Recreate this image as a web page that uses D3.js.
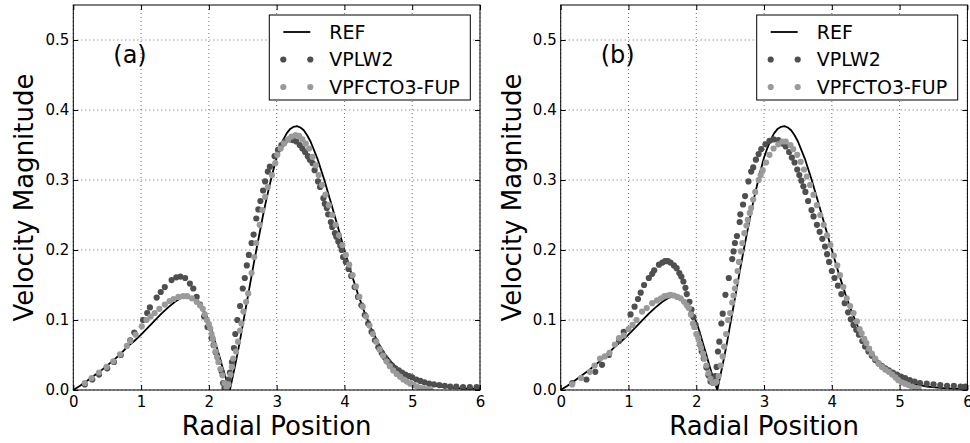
<!DOCTYPE html>
<html>
<head>
<meta charset="utf-8">
<script src="https://cdn.jsdelivr.net/npm/d3@7"></script>
<style>
  html, body { margin: 0; padding: 0; background: #fff; }
  svg { display: block; font-family: "DejaVu Sans", sans-serif; }
</style>
</head>
<body>
<svg id="chart" width="970" height="443"></svg>
<script>
// ---------------- DATA ----------------
const xTicks = [0, 1, 2, 3, 4, 5, 6];
const yTicks = [0.0, 0.1, 0.2, 0.3, 0.4, 0.5];
const panelLabels = ["(a)", "(b)"];
const seriesNames = ["REF", "VPLW2", "VPFCTO3-FUP"];
const xTitle = "Radial Position";
const yTitle = "Velocity Magnitude";

// Reference solution (same in both panels) [radial position, velocity]
const refCurve = [[0,0],[0.1,0.006],[0.2,0.013],[0.3,0.02],[0.4,0.027],[0.5,0.035],[0.6,0.043],[0.7,0.052],[0.8,0.062],[0.9,0.07],[1.0,0.079],[1.1,0.089],[1.2,0.099],[1.3,0.109],[1.4,0.118],[1.5,0.126],[1.6,0.132],[1.7,0.134],[1.8,0.129],[1.9,0.118],[1.95,0.109],[2.0,0.097],[2.05,0.083],[2.1,0.066],[2.15,0.05],[2.2,0.033],[2.25,0.017],[2.31,0.0],[2.35,0.018],[2.4,0.041],[2.45,0.066],[2.5,0.093],[2.55,0.12],[2.6,0.147],[2.65,0.174],[2.7,0.2],[2.75,0.225],[2.8,0.25],[2.85,0.273],[2.9,0.294],[2.95,0.314],[3.0,0.332],[3.05,0.346],[3.1,0.358],[3.15,0.367],[3.2,0.373],[3.25,0.376],[3.3,0.377],[3.35,0.375],[3.4,0.371],[3.45,0.364],[3.5,0.355],[3.6,0.331],[3.7,0.301],[3.8,0.268],[3.9,0.234],[4.0,0.2],[4.1,0.167],[4.2,0.137],[4.3,0.11],[4.4,0.087],[4.5,0.067],[4.6,0.051],[4.7,0.039],[4.8,0.029],[4.9,0.022],[5.0,0.016],[5.2,0.009],[5.4,0.005],[5.6,0.003],[5.8,0.002],[6.0,0.002]];

// Panel (a)
const aVPLW2 = [[0.17,0.008],[0.28,0.015],[0.38,0.022],[0.5,0.031],[0.6,0.04],[0.7,0.05],[0.84,0.071],[0.9,0.082],[1.03,0.1],[1.09,0.11],[1.13,0.118],[1.23,0.132],[1.29,0.14],[1.35,0.147],[1.45,0.157],[1.52,0.161],[1.58,0.162],[1.65,0.16],[1.72,0.152],[1.77,0.145],[1.82,0.133],[1.87,0.122],[1.93,0.105],[1.98,0.09],[2.04,0.074],[2.07,0.064],[2.1,0.054],[2.15,0.04],[2.19,0.026],[2.21,0.01],[2.23,0.003],[2.27,0.005],[2.29,0.015],[2.31,0.025],[2.34,0.04],[2.37,0.06],[2.39,0.08],[2.42,0.1],[2.46,0.12],[2.5,0.145],[2.53,0.16],[2.56,0.178],[2.59,0.193],[2.63,0.21],[2.66,0.222],[2.7,0.245],[2.73,0.258],[2.76,0.27],[2.8,0.285],[2.83,0.298],[2.87,0.312],[2.9,0.319],[2.97,0.334],[3.02,0.343],[3.07,0.35],[3.12,0.355],[3.2,0.358],[3.24,0.357],[3.29,0.355],[3.34,0.35],[3.38,0.345],[3.42,0.34],[3.46,0.334],[3.49,0.329],[3.53,0.324],[3.56,0.314],[3.61,0.298],[3.64,0.29],[3.69,0.274],[3.71,0.266],[3.74,0.26],[3.76,0.251],[3.8,0.24],[3.82,0.233],[3.86,0.224],[3.88,0.219],[3.91,0.212],[3.94,0.206],[3.96,0.2],[3.98,0.19],[4.02,0.183],[4.06,0.173],[4.1,0.163],[4.15,0.147],[4.2,0.133],[4.25,0.121],[4.3,0.107],[4.35,0.095],[4.4,0.083],[4.45,0.071],[4.5,0.061],[4.55,0.053],[4.6,0.046],[4.65,0.04],[4.7,0.035],[4.75,0.031],[4.8,0.028],[4.85,0.025],[4.9,0.022],[4.95,0.02],[5.0,0.018],[5.06,0.015],[5.12,0.013],[5.18,0.011],[5.25,0.009],[5.32,0.008],[5.4,0.007],[5.48,0.006],[5.56,0.005],[5.65,0.005],[5.75,0.004],[5.85,0.004],[5.95,0.004]];

const aVPFCTO3 = [[0.17,0.01],[0.27,0.017],[0.38,0.025],[0.49,0.033],[0.59,0.041],[0.69,0.051],[0.79,0.063],[0.84,0.07],[0.92,0.079],[1.01,0.091],[1.08,0.1],[1.14,0.105],[1.2,0.11],[1.27,0.116],[1.35,0.122],[1.42,0.127],[1.48,0.13],[1.55,0.133],[1.62,0.134],[1.68,0.134],[1.75,0.131],[1.82,0.126],[1.87,0.121],[1.91,0.116],[1.94,0.108],[1.97,0.1],[2.0,0.094],[2.02,0.088],[2.04,0.08],[2.06,0.073],[2.08,0.064],[2.1,0.055],[2.12,0.047],[2.14,0.04],[2.17,0.03],[2.2,0.021],[2.23,0.01],[2.26,0.003],[2.29,0.008],[2.32,0.022],[2.34,0.033],[2.36,0.045],[2.4,0.055],[2.43,0.069],[2.46,0.085],[2.48,0.095],[2.51,0.112],[2.55,0.126],[2.58,0.138],[2.63,0.167],[2.67,0.19],[2.7,0.21],[2.75,0.236],[2.79,0.257],[2.83,0.276],[2.87,0.29],[2.93,0.307],[2.98,0.324],[3.01,0.336],[3.06,0.345],[3.11,0.352],[3.17,0.358],[3.22,0.362],[3.28,0.364],[3.33,0.363],[3.38,0.358],[3.43,0.352],[3.48,0.345],[3.53,0.333],[3.58,0.321],[3.62,0.307],[3.67,0.293],[3.72,0.279],[3.77,0.264],[3.82,0.25],[3.87,0.236],[3.92,0.221],[3.97,0.207],[4.02,0.193],[4.07,0.179],[4.12,0.164],[4.17,0.148],[4.22,0.133],[4.27,0.119],[4.32,0.105],[4.37,0.092],[4.42,0.08],[4.47,0.069],[4.52,0.058],[4.57,0.049],[4.62,0.041],[4.67,0.034],[4.72,0.028],[4.77,0.023],[4.82,0.019],[4.87,0.015],[4.92,0.012],[4.97,0.009],[5.02,0.007],[5.07,0.005],[5.12,0.003],[5.17,0.002],[5.22,0.001],[5.27,0.0]];

// Panel (b)
const bVPLW2 = [[0.17,0.01],[0.38,0.015],[0.51,0.026],[0.61,0.036],[0.71,0.05],[0.86,0.07],[0.93,0.083],[1.03,0.108],[1.09,0.119],[1.14,0.13],[1.18,0.139],[1.23,0.15],[1.3,0.16],[1.35,0.166],[1.38,0.171],[1.45,0.179],[1.5,0.182],[1.54,0.184],[1.58,0.184],[1.62,0.182],[1.67,0.178],[1.71,0.174],[1.75,0.167],[1.78,0.162],[1.81,0.155],[1.84,0.146],[1.86,0.137],[1.9,0.126],[1.93,0.115],[1.96,0.104],[1.99,0.093],[2.02,0.079],[2.06,0.064],[2.08,0.055],[2.11,0.045],[2.15,0.032],[2.18,0.021],[2.21,0.012],[2.25,0.01],[2.28,0.02],[2.3,0.033],[2.32,0.055],[2.34,0.069],[2.37,0.095],[2.39,0.109],[2.43,0.136],[2.48,0.16],[2.53,0.187],[2.55,0.198],[2.57,0.21],[2.6,0.22],[2.64,0.24],[2.65,0.251],[2.69,0.265],[2.72,0.277],[2.77,0.298],[2.81,0.312],[2.84,0.318],[2.88,0.329],[2.92,0.337],[2.96,0.344],[3.02,0.351],[3.08,0.356],[3.14,0.358],[3.21,0.357],[3.27,0.352],[3.32,0.348],[3.37,0.34],[3.41,0.332],[3.45,0.325],[3.49,0.315],[3.52,0.307],[3.55,0.299],[3.58,0.291],[3.61,0.283],[3.65,0.27],[3.7,0.257],[3.73,0.248],[3.78,0.236],[3.82,0.226],[3.86,0.216],[3.9,0.205],[3.93,0.194],[3.96,0.183],[4.0,0.17],[4.04,0.16],[4.09,0.149],[4.14,0.137],[4.19,0.124],[4.24,0.111],[4.28,0.101],[4.32,0.093],[4.36,0.086],[4.4,0.079],[4.45,0.07],[4.49,0.062],[4.54,0.055],[4.59,0.049],[4.64,0.043],[4.69,0.038],[4.74,0.034],[4.79,0.031],[4.84,0.028],[4.9,0.025],[4.96,0.022],[5.02,0.019],[5.08,0.017],[5.15,0.014],[5.22,0.012],[5.3,0.01],[5.4,0.009],[5.5,0.008],[5.6,0.007],[5.7,0.006],[5.8,0.006],[5.9,0.005],[5.97,0.005]];

const bVPFCTO3 = [[0.17,0.008],[0.3,0.017],[0.43,0.026],[0.5,0.035],[0.58,0.045],[0.65,0.048],[0.72,0.053],[0.8,0.065],[0.86,0.074],[0.93,0.078],[1.0,0.087],[1.06,0.093],[1.12,0.1],[1.2,0.112],[1.27,0.117],[1.35,0.124],[1.42,0.128],[1.48,0.131],[1.53,0.134],[1.58,0.135],[1.62,0.136],[1.67,0.135],[1.72,0.133],[1.77,0.131],[1.82,0.126],[1.86,0.121],[1.89,0.117],[1.92,0.108],[1.95,0.095],[1.97,0.09],[2.0,0.08],[2.03,0.074],[2.05,0.066],[2.07,0.06],[2.1,0.052],[2.12,0.045],[2.15,0.035],[2.18,0.024],[2.21,0.016],[2.24,0.011],[2.27,0.01],[2.3,0.012],[2.33,0.02],[2.36,0.035],[2.39,0.048],[2.41,0.062],[2.44,0.08],[2.47,0.1],[2.5,0.11],[2.53,0.125],[2.55,0.135],[2.57,0.145],[2.59,0.155],[2.61,0.17],[2.63,0.183],[2.66,0.198],[2.68,0.21],[2.71,0.224],[2.74,0.235],[2.76,0.243],[2.79,0.253],[2.81,0.26],[2.84,0.272],[2.87,0.283],[2.92,0.3],[2.95,0.307],[2.98,0.314],[3.03,0.325],[3.08,0.336],[3.14,0.345],[3.21,0.351],[3.27,0.355],[3.32,0.355],[3.39,0.35],[3.43,0.344],[3.49,0.336],[3.54,0.326],[3.59,0.315],[3.63,0.305],[3.68,0.293],[3.73,0.279],[3.78,0.264],[3.83,0.25],[3.88,0.236],[3.93,0.221],[3.98,0.207],[4.03,0.192],[4.08,0.178],[4.12,0.164],[4.17,0.147],[4.22,0.131],[4.27,0.12],[4.32,0.11],[4.37,0.098],[4.41,0.087],[4.44,0.081],[4.48,0.073],[4.51,0.067],[4.55,0.059],[4.59,0.052],[4.64,0.045],[4.69,0.038],[4.74,0.033],[4.79,0.029],[4.84,0.026],[4.89,0.022],[4.94,0.018],[4.98,0.014],[5.03,0.011],[5.08,0.009],[5.13,0.007],[5.18,0.005],[5.23,0.003],[5.28,0.002]];

const panels = [
  { label: panelLabels[0], vplw2: aVPLW2, vpfcto3: aVPFCTO3 },
  { label: panelLabels[1], vplw2: bVPLW2, vpfcto3: bVPFCTO3 }
];

// ---------------- STYLE / LAYOUT ----------------
const colRef = "#000000", colDark = "#4f4f4f", colLight = "#9a9a9a";
const panelLefts = [73.3, 560.7];
const plotW = 406.7, plotTop = 5, plotBottom = 390;
const dotR = 3.1;

const svg = d3.select("#chart");
svg.append("rect").attr("width", 970).attr("height", 443).attr("fill", "#fff");

panels.forEach((p, i) => {
  const left = panelLefts[i];
  const x = d3.scaleLinear().domain([0, 6]).range([left, left + plotW]);
  const y = d3.scaleLinear().domain([0, 0.55]).range([plotBottom, plotTop]);
  const g = svg.append("g");

  // grid
  g.selectAll(".gx").data(xTicks).enter().append("line")
    .attr("x1", d => x(d)).attr("x2", d => x(d))
    .attr("y1", plotTop).attr("y2", plotBottom)
    .attr("stroke", "#444").attr("stroke-width", 0.8).attr("stroke-dasharray", "1,3");
  g.selectAll(".gy").data(yTicks).enter().append("line")
    .attr("x1", left).attr("x2", left + plotW)
    .attr("y1", d => y(d)).attr("y2", d => y(d))
    .attr("stroke", "#444").attr("stroke-width", 0.8).attr("stroke-dasharray", "1,3");

  // clip
  const clipId = "clip" + i;
  svg.append("clipPath").attr("id", clipId).append("rect")
    .attr("x", left).attr("y", plotTop).attr("width", plotW).attr("height", plotBottom - plotTop);
  const plotG = g.append("g").attr("clip-path", `url(#${clipId})`);

  // REF line
  plotG.append("path").datum(refCurve)
    .attr("fill", "none").attr("stroke", colRef).attr("stroke-width", 1.8)
    .attr("stroke-linejoin", "round")
    .attr("d", d3.line().x(d => x(d[0])).y(d => y(d[1])).curve(d3.curveLinear));

  // VPLW2
  plotG.selectAll(".dk").data(p.vplw2).enter().append("circle")
    .attr("cx", d => x(d[0])).attr("cy", d => y(d[1])).attr("r", dotR)
    .attr("fill", colDark);
  // VPFCTO3-FUP
  plotG.selectAll(".lt").data(p.vpfcto3).enter().append("circle")
    .attr("cx", d => x(d[0])).attr("cy", d => y(d[1])).attr("r", dotR)
    .attr("fill", colLight);

  // axes (inward ticks on all sides)
  const axB = g.append("g").attr("transform", `translate(0,${plotBottom})`)
    .call(d3.axisBottom(x).tickValues(xTicks).tickFormat(d3.format("d")).tickSizeInner(-5).tickSizeOuter(0).tickPadding(6));
  const axL = g.append("g").attr("transform", `translate(${left},0)`)
    .call(d3.axisLeft(y).tickValues(yTicks).tickFormat(d3.format(".1f")).tickSizeInner(-5).tickSizeOuter(0).tickPadding(4));
  const axT = g.append("g").attr("transform", `translate(0,${plotTop})`)
    .call(d3.axisTop(x).tickValues(xTicks).tickFormat("").tickSizeInner(-5).tickSizeOuter(0));
  const axR = g.append("g").attr("transform", `translate(${left + plotW},0)`)
    .call(d3.axisRight(y).tickValues(yTicks).tickFormat("").tickSizeInner(-5).tickSizeOuter(0));
  [axB, axL, axT, axR].forEach(a => {
    a.select(".domain").remove();
    a.selectAll("line").attr("stroke", "#000").attr("stroke-width", 1);
    a.selectAll("text").attr("font-family", "DejaVu Sans").attr("font-size", 15).attr("fill", "#000");
  });

  // frame
  g.append("rect").attr("x", left).attr("y", plotTop).attr("width", plotW).attr("height", plotBottom - plotTop)
    .attr("fill", "none").attr("stroke", "#000").attr("stroke-width", 1);

  // axis titles
  g.append("text").attr("x", left + plotW / 2).attr("y", 435).attr("text-anchor", "middle")
    .attr("font-size", 26).attr("fill", "#000").text(xTitle);
  g.append("text").attr("transform", `translate(${left - 40},${(plotTop + plotBottom) / 2}) rotate(-90)`)
    .attr("text-anchor", "middle").attr("font-size", 26).attr("fill", "#000").text(yTitle);

  // panel label
  g.append("text").attr("x", left + 40).attr("y", 63).attr("font-size", 24).attr("fill", "#000").text(p.label);

  // legend
  const lx = left + 196, ly = 15, lw = 201, lh = 85;
  const lg = g.append("g");
  lg.append("rect").attr("x", lx).attr("y", ly).attr("width", lw).attr("height", lh)
    .attr("fill", "#fff").attr("stroke", "#000").attr("stroke-width", 1);
  const rows = [ly + 17, ly + 44.5, ly + 72];
  lg.append("line").attr("x1", lx + 14).attr("x2", lx + 41).attr("y1", rows[0]).attr("y2", rows[0])
    .attr("stroke", colRef).attr("stroke-width", 1.8);
  [[colDark, rows[1]], [colLight, rows[2]]].forEach(([c, ry]) => {
    [lx + 14, lx + 41].forEach(cx => lg.append("circle").attr("cx", cx).attr("cy", ry).attr("r", dotR).attr("fill", c));
  });
  seriesNames.forEach((n, k) => {
    lg.append("text").attr("x", lx + 60).attr("y", rows[k]).attr("dy", "0.36em")
      .attr("font-size", 19).attr("fill", "#000").text(n);
  });
});
</script>
</body>
</html>
